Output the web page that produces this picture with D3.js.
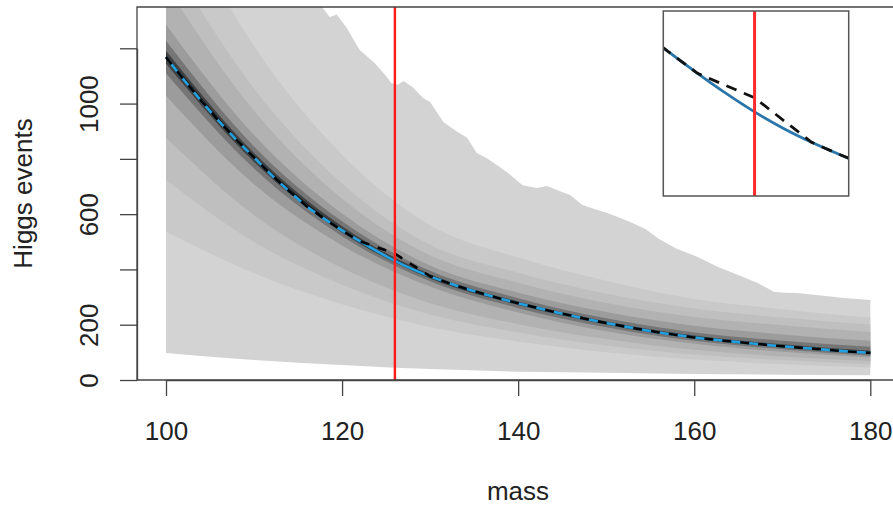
<!DOCTYPE html>
<html><head><meta charset="utf-8">
<script src="https://cdn.jsdelivr.net/npm/d3@7"></script>
<style>body{margin:0;background:#fff}svg{display:block}text{font-family:"Liberation Sans",Arial,Helvetica,sans-serif;fill:#222}</style>
</head><body><svg id="c" width="893" height="508"></svg>
<script>
// ---- data ----
const massGrid=[100,102,104,106,108,110,112,114,116,118,120,122,124,126,128,130,132,134,136,138,140,142,144,146,148,150,152,154,156,158,160,162,164,166,168,170,172,174,176,178,180];
const expectedEvents=[1168,1087,1010,937,869,805,741,683,628,583,541,502,465,431,401,375,352,331,312,294,278,262,247,233,219,206,194,183,172,163,154,147,140,134,128,122,117,112,107,102,98];
const observedMass=[100,102,104,106,108,110,112,114,116,118,120,122,126,130,132,134,136,138,140,142,144,146,148,150,152,154,156,158,160,162,164,166,168,170,172,174,176,178,180];
const observedEvents=[1168,1087,1010,937,869,805,741,683,628,583,541,502,457,375,352,331,312,294,278,262,247,233,219,206,194,183,172,163,154,147,140,134,128,122,117,112,107,102,98];
const bandMass=[100,110,120,130,140,150,160,170,180];
const band2Lower=[537,386,274,192,139,100,74,57,45];
const band2Upper=[1775,1208,815,560,443,359,293,256,225];
const band3Lower=[724,499,345,237,172,125,92,72,57];
const band3Upper=[1542,1055,711,489,388,312,259,226,201];
const band4Lower=[876,596,405,278,202,148,109,85,69];
const band4Upper=[1425,974,656,451,352,279,228,198,174];
const band5Lower=[1028,708,487,338,244,176,131,102,81];
const band5Upper=[1285,886,602,414,316,246,196,165,142];
const band6Lower=[1110,765,520,357,260,191,142,111,88];
const band6Upper=[1226,845,574,395,296,223,172,142,120];
const band7Lower=[1145,789,534,367,271,200,149,118,94];
const band7Upper=[1191,821,556,383,284,212,161,129,106];
const band8Lower=[1160,799,537,371,275,203,152,120,96];
const band8Upper=[1176,811,545,379,280,208,157,125,101];
const outerUpperMass=[100,105,110,114,116,117.6,118.6,119.4,120.5,122,123.7,125,125.6,126.3,127,128,129.2,130,131.5,133,134.2,135.3,136.4,137.9,139,140.5,142.1,143.3,144.4,145.9,147.3,148.5,150.1,151.6,153,154.5,156,158,160.4,162.7,165,167.2,169.1,170.5,171.7,173.6,175.5,177,178.5,180];
const outerUpper=[2200,1950,1750,1560,1460,1355,1313,1322,1275,1194,1147,1100,1074,1068,1082,1060,1020,1006,933,900,876,821,803,771,745,705,695,702,687,669,633,620,604,586,568,545,510,475,445,409,380,351,318,316,315,308,302,297,293,289];
const outerLowerMass=[100,105,110,115,120,126,130,140,150,160,170,180];
const outerLower=[98,84,72,62,54,44,40,30,26,22,19,17];
const markMass=126;
const xTicks=[100,120,140,160,180];
const yTicks=[0,200,400,600,800,1000,1200];
const yTickLabels=["0","200","","600","","1000",""];

// ---- drawing ----
const svg=d3.select("#c");
const x=d3.scaleLinear().domain([100,180]).range([166,870.3]);
const y=d3.scaleLinear().domain([0,1200]).range([380,48.3]);
const L=137,T=7,B=380,R=899;
const defs=svg.append("defs");
defs.append("clipPath").attr("id","pc").append("rect").attr("x",L).attr("y",T).attr("width",R-L).attr("height",B-T);

const g=svg.append("g").attr("clip-path","url(#pc)");
// outer band
const outerPts=outerUpperMass.map((m,i)=>[x(m),y(outerUpper[i])])
  .concat(outerLowerMass.map((m,i)=>[x(m),y(outerLower[i])]).reverse());
g.append("path").attr("d",d3.line()(outerPts)+"Z").attr("fill","#d3d3d3");

const bands=[
 [band2Lower,band2Upper,"#c9c9c9"],
 [band3Lower,band3Upper,"#bfbfbf"],
 [band4Lower,band4Upper,"#b2b2b2"],
 [band5Lower,band5Upper,"#9c9c9c"],
 [band6Lower,band6Upper,"#767676"],
 [band7Lower,band7Upper,"#424242"],
 [band8Lower,band8Upper,"#151515"]];
bands.forEach(([lo,hi,col])=>{
  const area=d3.area().x((d,i)=>x(bandMass[i])).y0((d,i)=>y(lo[i])).y1((d,i)=>y(hi[i])).curve(d3.curveMonotoneX);
  g.append("path").attr("d",area(bandMass)).attr("fill",col);
});
const lineE=d3.line().x((d,i)=>x(massGrid[i])).y(d=>y(d)).curve(d3.curveMonotoneX);
g.append("path").attr("d",lineE(expectedEvents)).attr("fill","none").attr("stroke","#22a0e0").attr("stroke-width",2.6);
const lineO=d3.line().x((d,i)=>x(observedMass[i])).y(d=>y(d));
g.append("path").attr("d",lineO(observedEvents)).attr("fill","none").attr("stroke","#000").attr("stroke-width",2.6).attr("stroke-dasharray","9,9");
g.append("line").attr("x1",x(markMass)).attr("x2",x(markMass)).attr("y1",T).attr("y2",B).attr("stroke","#ff1a1a").attr("stroke-width",2.4);

// box
svg.append("path").attr("d",`M${R},${T}H${L}V${B}H${R}`).attr("fill","none").attr("stroke","#444").attr("stroke-width",1.3);

// axes
const xa=svg.append("g").attr("transform",`translate(0,${B})`)
  .call(d3.axisBottom(x).tickValues(xTicks).tickSize(16).tickSizeOuter(0).tickPadding(25.5).tickFormat(d3.format("d")));
xa.select(".domain").attr("stroke","#444").attr("stroke-width",1.3);
xa.selectAll(".tick line").attr("stroke","#444").attr("stroke-width",1.3);
xa.selectAll("text").attr("font-size",26).attr("fill","#222").attr("font-family",null);

const ya=svg.append("g").attr("transform",`translate(${L},0)`)
  .call(d3.axisLeft(y).tickValues(yTicks).tickSize(17).tickSizeOuter(0).tickFormat((d,i)=>yTickLabels[i]));
ya.select(".domain").attr("stroke","#444").attr("stroke-width",1.3);
ya.selectAll(".tick line").attr("stroke","#444").attr("stroke-width",1.3);
ya.selectAll("text").attr("x",null).attr("dy",null).attr("font-size",26).attr("fill","#222").attr("font-family",null)
  .attr("text-anchor","middle").attr("transform",`translate(${98-L},0) rotate(-90)`);

svg.append("text").attr("x",(L+R)/2).attr("y",500).attr("text-anchor","middle").attr("font-size",26).text("mass");
svg.append("text").attr("transform",`translate(32,${(T+B)/2}) rotate(-90)`).attr("text-anchor","middle").attr("font-size",26).text("Higgs events");

// inset
const ix=d3.scaleLinear().domain([119.6,132.6]).range([663.3,848.7]);
const iy=d3.scaleLinear().domain([276,617]).range([196,11]);
defs.append("clipPath").attr("id","ic").append("rect").attr("x",663.3).attr("y",11).attr("width",185.4).attr("height",185);
svg.append("rect").attr("x",663.3).attr("y",11).attr("width",185.4).attr("height",185).attr("fill","#fff");
const ig=svg.append("g").attr("clip-path","url(#ic)");
ig.append("path").attr("d",d3.line().x((d,i)=>ix(massGrid[i])).y(d=>iy(d)).curve(d3.curveMonotoneX)(expectedEvents)).attr("fill","none").attr("stroke","#2a76aa").attr("stroke-width",2.8);
ig.append("path").attr("d",d3.line().x((d,i)=>ix(observedMass[i])).y(d=>iy(d))(observedEvents)).attr("fill","none").attr("stroke","#111").attr("stroke-width",2.8).attr("stroke-dasharray","11,8");
ig.append("line").attr("x1",ix(markMass)).attr("x2",ix(markMass)).attr("y1",11).attr("y2",196).attr("stroke","#ff2a2a").attr("stroke-width",3);
svg.append("rect").attr("x",663.3).attr("y",11).attr("width",185.4).attr("height",185).attr("fill","none").attr("stroke","#555").attr("stroke-width",1.5);
</script></body></html>
